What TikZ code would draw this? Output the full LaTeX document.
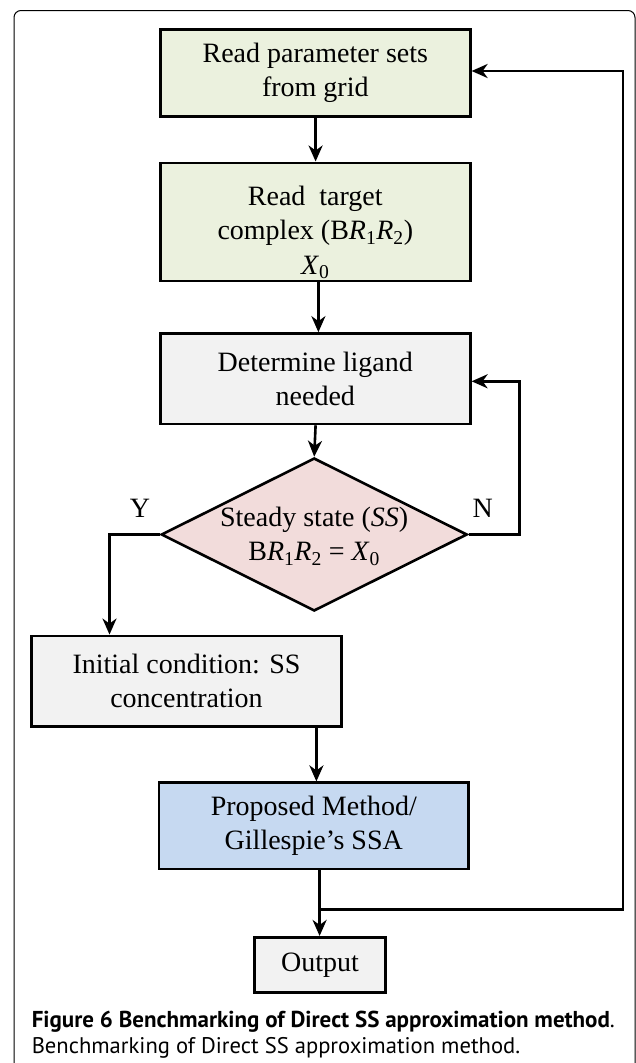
\documentclass[tikz,border=0pt]{standalone}
\usepackage{fontspec}
\setmainfont{Liberation Serif}
\newfontfamily\capfont{PT Sans}
\usetikzlibrary{shapes.geometric,arrows.meta}
\definecolor{grn}{HTML}{EBF1DE}
\definecolor{gry}{HTML}{F2F2F2}
\definecolor{pnk}{HTML}{F2DCDB}
\definecolor{blu}{HTML}{C6D9F1}
\newcommand{\Rs}[1]{\textit{R}\textsubscript{#1}}
\newcommand{\Xz}{\textit{X}\textsubscript{0}}
\tikzset{
  box/.style={draw, line width=2.6pt, inner sep=0pt, align=center,
    font=\fontsize{28}{34.5}\selectfont},
  dec/.style={draw, diamond, line width=2.6pt, inner sep=0pt, fill=pnk},
  lbl/.style={font=\fontsize{28}{34.5}\selectfont, inner sep=0pt},
  arr/.style={line width=2.6pt, -{Stealth[length=16pt,width=14pt,inset=5pt]}},
  captxt/.style={inner sep=0pt, anchor=base west}
}
\begin{document}
\begin{tikzpicture}[x=1pt,y=-1pt]
\useasboundingbox (0,0) rectangle (636,1063);
\draw[line width=1pt, rounded corners=7pt] (14,10.5) rectangle (635,1075);

\node[box, fill=grn, minimum width=310pt, minimum height=87pt] (b1) at (315.3,72.8)
  {Read parameter sets\\from grid};
\node[box, fill=grn, minimum width=310pt, minimum height=118pt] (b2) at (315.3,221.8) {};
\node[lbl, align=center] (b2t) at (315.3,232.5)
  {Read\ \ target\\complex (B\Rs{1}\Rs{2})\\\Xz};
\node[box, fill=gry, minimum width=310pt, minimum height=90.5pt] (b3) at (315.3,378.7)
  {Determine ligand\\needed};
\node[dec, minimum width=306pt, minimum height=153pt] (d) at (314.2,534.5) {};
\node[lbl, align=center] (dt) at (314.2,536)
  {Steady state (\textit{SS})\\B\Rs{1}\Rs{2} = \Xz};
\node[box, fill=gry, minimum width=310pt, minimum height=90.5pt] (b4) at (186.5,681.1)
  {Initial condition: SS\\concentration};
\node[box, fill=blu, minimum width=309.5pt, minimum height=86.4pt] (b5) at (313.8,825.9)
  {Proposed Method/\\Gillespie’s SSA};
\node[box, fill=gry, minimum width=130.6pt, minimum height=55.5pt] (out) at (320,965)
  {Output};

\node[lbl] (ly) at (140,508) {Y};
\node[lbl] (lN) at (482.7,508) {N};

\coordinate (c12) at (315.6,0);
\coordinate (c23) at (318.4,0);
\coordinate (c3d) at (315.6,0);
\coordinate (c45) at (316.4,0);
\coordinate (c5o) at (319.6,0);
\coordinate (yx) at (109.5,534.5);
\coordinate (nx) at (519.2,534.5);
\coordinate (nt) at (519.2,381.3);
\coordinate (j) at (319.6,909.5);
\coordinate (rb) at (622.8,909.5);
\coordinate (rt) at (622.8,71);

\draw[arr] (b1.south -| c12) -- (b2.north -| c12);
\draw[arr] (b2.south -| c23) -- (b3.north -| c23);
\draw[arr] (b3.south -| c3d) -- (d.north);
\draw[arr] (d.west) -- (yx) -- (b4.north -| yx);
\draw[arr] (d.east) -- (nx) -- (nt) -- (b3.east |- nt);
\draw[arr] (b4.south -| c45) -- (b5.north -| c45);
\draw[arr] (b5.south -| c5o) -- (out.north -| c5o);
\draw[arr] (j) -- (rb) -- (rt) -- (b1.east |- rt);

\node[captxt] (cap1) at (31.6,1027.4) {\capfont\fontsize{23}{26}\selectfont\bfseries Figure 6 Benchmarking of Direct SS approximation method\mdseries .};
\node[captxt] (cap2) at (31.6,1053.5) {\capfont\fontsize{22.6}{26}\selectfont Benchmarking of Direct SS approximation method.};
\end{tikzpicture}
\end{document}
